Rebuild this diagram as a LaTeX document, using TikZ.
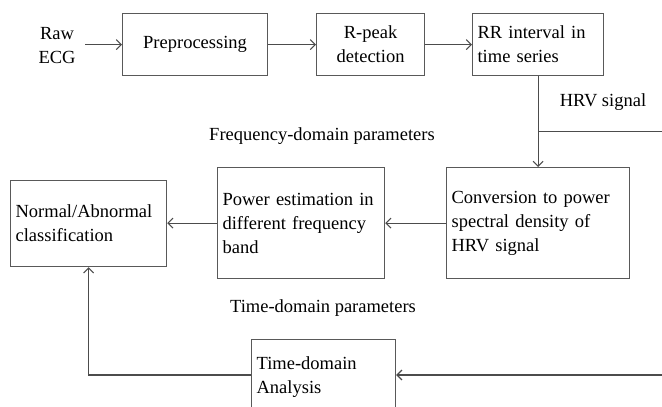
\documentclass[tikz,border=0pt]{standalone}
\usepackage{fontspec}
\setmainfont{Liberation Serif}
\usetikzlibrary{arrows.meta,positioning,calc}

\begin{document}
\begin{tikzpicture}[
    x=1pt, y=-1pt,
    font=\fontsize{18.5}{24}\selectfont,
    box/.style={rectangle, draw=black!65, line width=1.2pt, anchor=north west, inner xsep=5pt, minimum height=#1},
    box/.default=62pt,
    arr/.style={-{Straight Barb[length=5pt,width=10pt]}, line width=1.1pt, black!70},
    line/.style={line width=1.1pt, black!70},
    note/.style={font=\fontsize{18.5}{24}\selectfont},
]
\clip (0,0) rectangle (662,407);

% top row
\node[align=center] (raw) at (57,46) {Raw\\ECG};
\node[box, minimum width=145pt, align=center] (pre) at (122,13) {Preprocessing};
\node[box, minimum width=108pt, align=center] (rpeak) at (316,13) {R-peak\\detection};
\node[box, text width=121pt, align=left] (rr) at (472,13) {RR interval in\\time series};

% middle row
\node[box=111pt, text width=173pt, align=left] (conv) at (446,167) {Conversion to power\\spectral density of\\HRV signal};
\node[box=111pt, text width=157pt, align=left] (power) at (217,167) {Power estimation in\\different frequency\\band};
\node[box=86pt, text width=146pt, align=left] (normal) at (10,180) {Normal/Abnormal\\classification};

% bottom row
\node[box=74pt, text width=134pt, align=left] (time) at (251,339) {Time-domain\\Analysis};

% labels
\node[note] (hrvlbl) at (603,102) {HRV signal};
\node[note] (freqlbl) at (322,136) {Frequency-domain parameters};
\node[note] (timelbl) at (323,308) {Time-domain parameters};

\coordinate (hrvsplit) at ($(rr.south)!0.61!(rr.south |- conv.north)$);
\coordinate (hrvout) at (hrvsplit -| 662,0);
\coordinate (timein) at (662,375);

% connectors
\draw[arr, shorten <=6pt] (raw.east |- pre.west) -- (pre.west);
\draw[arr] (pre) -- (rpeak);
\draw[arr] (rpeak) -- (rr);
\draw[arr] (rr.south) -- (rr.south |- conv.north);
\draw[line] (hrvsplit) -- (hrvout);
\draw[arr] (conv) -- (power);
\draw[arr] (power.west) -- (power.west -| normal.east);
\draw[arr] (timein) -- (timein -| time.east);
\draw[arr] (time.west |- timein) -| (normal.south);
\end{tikzpicture}
\end{document}
